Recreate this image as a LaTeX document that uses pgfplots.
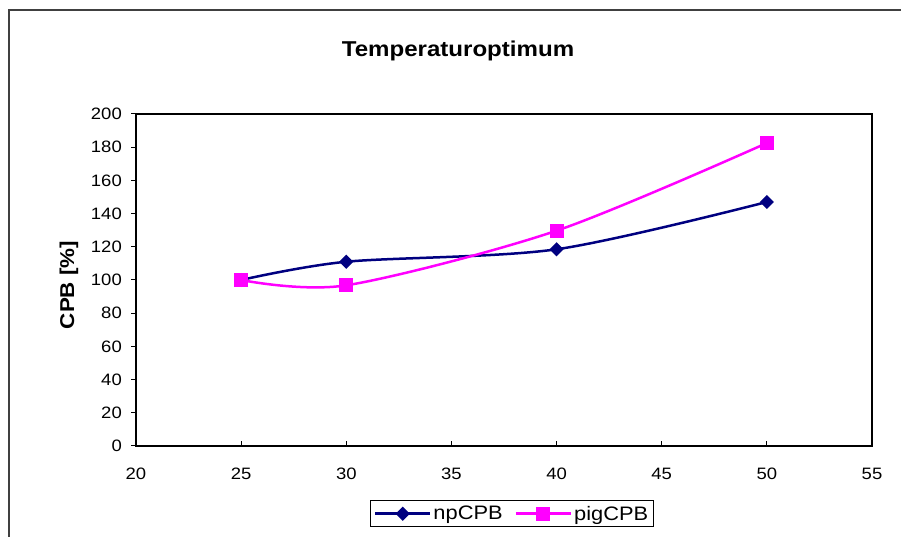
\documentclass[border=0pt]{standalone}
\usepackage{fontspec}
\setmainfont{Liberation Sans}[FakeStretch=1.12]
\usepackage{pgfplots}
\pgfplotsset{compat=1.18}
\definecolor{npblue}{RGB}{0,0,128}
\definecolor{pigmag}{RGB}{255,0,255}
\begin{document}
\begin{tikzpicture}[x=1bp,y=1bp]
\path[use as bounding box] (0,0) rectangle (901,537);
% chart area frame (right and bottom sides lie outside the picture)
\draw[line width=2bp, color=black!75] (9,-10) -- (9,526.5) -- (920,526.5);
\begin{axis}[
  at={(136bp,91bp)}, anchor=south west,
  scale only axis, width=736bp, height=332bp,
  xmin=20, xmax=55, ymin=0, ymax=200,
  xtick={20,25,...,55}, ytick={0,20,...,200},
  axis line style={line width=1.2bp},
  tick style={line width=1bp, black},
  major tick length=5bp,
  tick pos=left, xtick align=inside, ytick align=outside,
  /pgf/number format/assume math mode=true,
  ticklabel style={font=\fontsize{16.5bp}{18bp}\selectfont, inner sep=0pt},
  xticklabel style={anchor=north, yshift=-22bp},
  yticklabel style={anchor=east, xshift=-9bp},
  title={\bfseries Temperaturoptimum},
  title style={at={(0.4375,1)}, anchor=base, yshift=52bp,
    font=\fontsize{21.5bp}{24bp}\selectfont},
  ylabel={\bfseries CPB [\%]},
  ylabel style={at={(axis description cs:-0.091,0.485)}, anchor=center,
    font=\fontsize{20bp}{22bp}\selectfont},
  legend columns=2,
  legend style={at={(0.511,-0.244)}, anchor=south, draw=black, line width=1bp,
    font=\fontsize{19.5bp}{22bp}\selectfont, inner sep=3bp,
    /tikz/every even column/.append style={column sep=10bp}},
  legend image code/.code={\draw[mark repeat=2,mark phase=2]
    plot coordinates {(0bp,0bp) (27.5bp,0bp) (55bp,0bp)};},
]
\addplot[npblue, line width=2.5bp, smooth, mark=square*, mark size=4bp,
  mark options={rotate=45, solid, line width=2bp}] coordinates {
  (25,100) (30,111) (40,118.5) (50,147)
};
\addlegendentry{npCPB}
\addplot[pigmag, line width=2.5bp, smooth, mark=square*, mark size=6bp,
  mark options={solid, line width=2bp}] coordinates {
  (25,100) (30,96.8) (40,129.7) (50,182.5)
};
\addlegendentry{pigCPB}
\end{axis}
\end{tikzpicture}
\end{document}
